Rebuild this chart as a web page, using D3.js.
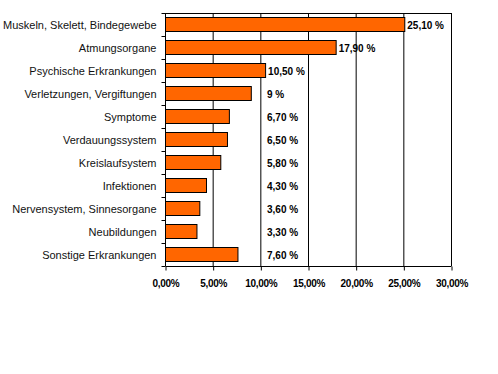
<!DOCTYPE html>
<html>
<head>
<meta charset="utf-8">
<script src="https://cdn.jsdelivr.net/npm/d3@7"></script>
<style>
  body { margin: 0; background: #fff; }
  svg { display: block; }
</style>
</head>
<body>
<div id="chart"></div>
<script>
// Data
var categories = [
    "Muskeln, Skelett, Bindegewebe",
    "Atmungsorgane",
    "Psychische Erkrankungen",
    "Verletzungen, Vergiftungen",
    "Symptome",
    "Verdauungssystem",
    "Kreislaufsystem",
    "Infektionen",
    "Nervensystem, Sinnesorgane",
    "Neubildungen",
    "Sonstige Erkrankungen"
];
var values = [25.1, 17.9, 10.5, 9, 6.7, 6.5, 5.8, 4.3, 3.6, 3.3, 7.6];
var valueLabels = ["25,10 %", "17,90 %", "10,50 %", "9 %", "6,70 %", "6,50 %",
    "5,80 %", "4,30 %", "3,60 %", "3,30 %", "7,60 %"];
var xTicks = [0, 5, 10, 15, 20, 25, 30];

var svgWidth = 498, svgHeight = 374;
var margin = { top: 13, right: 47, bottom: 108, left: 165 };
var width = svgWidth - margin.left - margin.right;
var height = svgHeight - margin.top - margin.bottom;

var svg = d3.select("#chart").append("svg")
    .attr("width", svgWidth)
    .attr("height", svgHeight);

var chartGroup = svg.append("g")
    .attr("transform", `translate(${margin.left}, ${margin.top})`);

var xScale = d3.scaleLinear().domain([0, 30]).range([0, width]);
var yScale = d3.scaleBand().domain(categories).range([0, height]).paddingInner(0.38).paddingOuter(0.19);

// gridlines + frame
chartGroup.selectAll(".grid")
    .data(xTicks.slice(1))
    .enter().append("line")
    .attr("x1", d => xScale(d) + 0.5).attr("x2", d => xScale(d) + 0.5)
    .attr("y1", 0).attr("y2", height)
    .attr("stroke", "#000").attr("stroke-width", 1);

chartGroup.append("line")
    .attr("x1", 0).attr("x2", width + 0.5)
    .attr("y1", 0.5).attr("y2", 0.5)
    .attr("stroke", "#000");

// bars
chartGroup.selectAll(".bar")
    .data(values)
    .enter().append("rect")
    .attr("x", xScale(0) + 0.5)
    .attr("y", (d, i) => Math.round(yScale(categories[i])) + 0.5)
    .attr("width", d => xScale(d) - xScale(0))
    .attr("height", Math.round(yScale.bandwidth()))
    .attr("fill", "#ff6600")
    .attr("stroke", "#000")
    .attr("stroke-width", 1);

// value labels (Excel placed these a bit off to the right)
chartGroup.selectAll(".vlabel")
    .data(values)
    .enter().append("text")
    .attr("x", d => Math.max(xScale(d) + 3, xScale(10.7)))
    .attr("y", (d, i) => yScale(categories[i]) + yScale.bandwidth() / 2 + 4)
    .attr("font-family", "Liberation Sans, Arial, sans-serif")
    .attr("font-size", "10px")
    .attr("font-weight", "bold")
    .attr("fill", "#000")
    .text((d, i) => valueLabels[i]);

// axes
var xAxis = d3.axisBottom(xScale)
    .tickValues(xTicks)
    .tickSize(4)
    .tickFormat(d => d3.format(".2f")(d).replace(".", ",") + "%");

var xg = chartGroup.append("g")
    .attr("transform", `translate(0.5, ${height + 0.5})`)
    .call(xAxis);
xg.select(".domain").attr("d", `M0,0H${width}`);
xg.selectAll("text")
    .attr("dy", "0")
    .attr("y", 20)
    .attr("font-family", "Liberation Sans, Arial, sans-serif")
    .attr("font-size", "10px")
    .attr("font-weight", "bold")
    .attr("letter-spacing", "-0.3px")
    .attr("fill", "#000");

// y axis: ticks sit between categories
var yg = chartGroup.append("g").attr("transform", "translate(0.5, 0)");
yg.append("line")
    .attr("x1", 0).attr("x2", 0).attr("y1", 0).attr("y2", height)
    .attr("stroke", "#000");
yg.selectAll(".ytick")
    .data(d3.range(categories.length + 1))
    .enter().append("line")
    .attr("x1", -4).attr("x2", 0)
    .attr("y1", i => Math.round(i * height / categories.length) + 0.5)
    .attr("y2", i => Math.round(i * height / categories.length) + 0.5)
    .attr("stroke", "#000");
yg.selectAll(".ylabel")
    .data(categories)
    .enter().append("text")
    .attr("x", -9)
    .attr("y", d => yScale(d) + yScale.bandwidth() / 2 + 4)
    .attr("text-anchor", "end")
    .attr("font-family", "Liberation Sans, Arial, sans-serif")
    .attr("font-size", "11px")
    .attr("fill", "#111")
    .text(d => d);
</script>
</body>
</html>
